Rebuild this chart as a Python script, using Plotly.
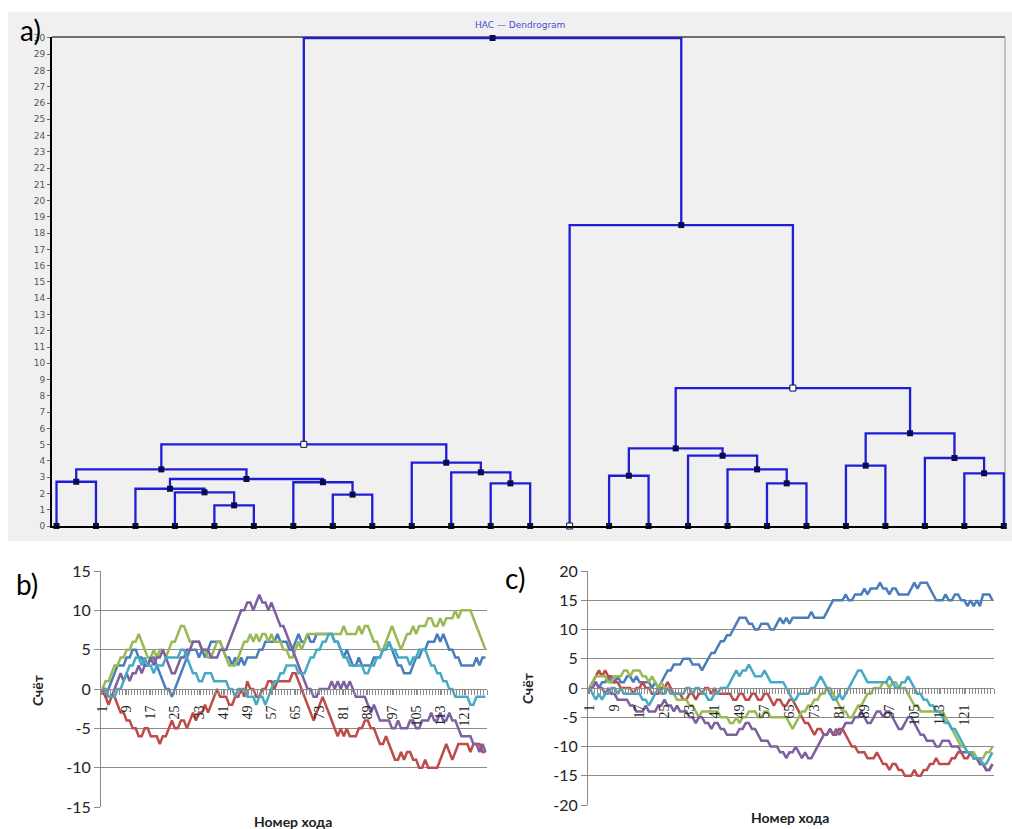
import plotly.graph_objects as go

W, H = 1012, 829

# ---------------- Panel a: dendrogram data ----------------
n_leaves = 25
# merges: (left child id, right child id, height); leaves are 0..24, merges numbered from 25
merge_left = [4, 7, 3, 2, 11, 18, 6, 0, 28, 14, 23, 10, 32, 17, 20, 9, 22, 16, 34, 37, 39, 43, 13, 44]
merge_right = [5, 8, 25, 27, 12, 19, 26, 1, 31, 15, 24, 29, 33, 30, 21, 36, 35, 38, 42, 40, 41, 45, 46, 47]
merge_height = [1.27, 1.93, 2.07, 2.29, 2.62, 2.62, 2.69, 2.72, 2.89, 3.09, 3.24, 3.30, 3.48, 3.48,
                3.71, 3.89, 4.18, 4.32, 4.77, 5.02, 5.70, 8.48, 18.5, 30.0]
hollow_nodes = [13, 44, 46]
dendro_ticks = list(range(0, 31))

# ---------------- Panel b data ----------------
b_blue = [0,-1,0,1,2,3,3,3,4,4, 5,5,4,4,3,3,4,4,3,2, 1,0,0,-1,0,1,2,3,4,5,
          5,5,4,5,4,5,6,6,6,6, 5,4,4,3,4,3,4,3,4,4, 4,4,5,5,6,6,6,6,7,6,
          6,6,5,5,6,7,6,6,7,6, 6,7,7,7,7,7,7,6,6,5, 4,5,4,3,3,4,3,3,3,3,
          4,4,4,5,5,6,5,4,3,3, 2,2,2,3,4,4,5,5,6,6, 6,7,6,7,6,5,5,4,4,3,
          3,3,3,3,4,3,4,4]
b_red = [0,-1,-2,-1,-1,-2,-3,-3,-4,-4, -5,-5,-6,-6,-5,-5,-6,-6,-6,-7, -6,-6,-5,-4,-5,-5,-4,-4,-5,-4,
         -3,-4,-3,-3,-2,-3,-2,-1,0,-1, -1,-1,-2,-2,-1,-1,0,-1,1,0, 0,-1,-1,0,0,1,1,0,1,1,
         1,1,1,2,2,1,0,-1,-2,-3, -4,-3,-2,-1,-2,-3,-4,-5,-6,-5, -6,-5,-6,-6,-6,-5,-5,-4,-4,-5,
         -5,-6,-7,-7,-6,-7,-8,-9,-9,-8, -9,-8,-8,-9,-9,-10,-10,-9,-10,-10, -10,-10,-9,-8,-7,-8,-9,-8,-7,-7,
         -7,-7,-8,-7,-7,-7,-8,-8]
b_green = [0,1,1,2,3,3,4,4,5,5, 6,6,7,6,5,4,4,5,4,5, 5,4,5,6,6,7,8,8,7,6,
           6,6,6,5,5,4,4,5,6,6, 5,4,3,3,3,4,5,6,6,7, 6,7,6,7,7,6,7,6,6,6,
           5,5,4,4,5,6,5,6,7,7, 7,7,7,7,7,7,7,7,7,7, 8,7,7,7,7,8,7,8,8,7,
           6,6,5,5,6,7,8,7,6,5, 6,7,7,8,7,8,8,8,9,9, 8,8,9,8,9,9,9,10,9,10,
           10,10,10,9,8,7,6,5]
b_purple = [0,0,-1,-1,0,1,2,1,2,1, 2,2,3,2,3,3,4,3,4,4, 5,4,3,2,2,3,4,4,5,5,
            6,6,6,5,5,5,4,4,4,5, 5,5,6,7,8,9,10,10,11,11, 10,11,12,11,11,10,11,10,9,8,
            8,7,6,5,4,3,2,1,0,0, -1,-1,0,0,0,0,1,0,1,0, 1,0,1,0,-1,-1,-1,-1,-2,-3,
            -2,-3,-4,-4,-4,-4,-5,-5,-4,-5, -5,-5,-4,-4,-5,-5,-4,-4,-4,-3, -4,-4,-3,-4,-4,-3,-4,-4,-5,-6,
            -6,-6,-6,-7,-7,-8,-7,-8]
b_aqua = [0,0,-1,-1,-1,0,0,1,2,3, 3,4,4,3,4,3,3,2,3,3, 3,4,4,4,4,4,5,5,4,3,
          2,2,1,1,2,2,2,1,1,1, 1,1,0,0,-1,0,0,0,-1,-1, -1,-2,-1,-1,-2,-1,0,1,1,2,
          2,3,3,3,3,2,2,2,3,4, 4,5,5,6,6,7,7,6,6,5, 4,4,3,3,3,3,3,2,2,3,
          3,4,4,5,5,6,5,5,4,4, 4,4,3,4,4,5,5,5,4,3, 3,2,2,1,1,0,0,-1,-1,-1,
          -1,-1,-2,-2,-1,-1,-1,-1]

# ---------------- Panel c data ----------------
c_blue = [0,1,1,0,1,1,2,1,1,2, 1,1,2,2,1,2,1,1,1,1, 0,1,0,1,2,3,3,4,4,4,
          5,5,5,4,4,4,3,4,5,6, 6,7,8,8,9,9,10,11,12,12, 12,11,11,10,10,11,11,11,10,10,
          11,12,11,12,11,12,12,12,12,12, 12,13,12,12,12,12,13,14,15,15, 15,15,16,15,15,16,16,16,17,16,
          17,17,17,18,17,17,16,17,17,16, 16,16,16,17,18,17,18,18,18,17, 16,15,15,15,16,15,15,16,16,15,
          15,14,15,14,15,14,16,16,16,15]
c_red = [0,1,2,3,2,3,2,2,1,1, 0,0,0,0,-1,0,0,1,0,0, -1,-1,-1,0,0,1,0,-1,-1,-1,
         -2,-2,-1,-1,-2,-1,-1,0,0,-1, 0,-1,-1,-1,-1,-1,-2,-2,-1,-1, -2,-2,-1,-1,-2,-2,-1,-1,-2,-3,
         -2,-2,-3,-3,-2,-2,-3,-4,-5,-6, -6,-7,-8,-7,-7,-8,-8,-7,-8,-8, -7,-7,-8,-9,-10,-10,-11,-11,-11,-12,
         -12,-12,-11,-12,-13,-13,-14,-13,-13,-14, -14,-15,-15,-15,-14,-15,-15,-14,-14,-13, -13,-12,-13,-13,-13,-13,-12,-12,-11,-11,
         -12,-12,-11,-12,-12,-13,-13,-14,-14,-13]
c_green = [0,1,2,2,2,2,1,1,2,2, 2,3,3,2,3,3,3,2,2,1, 2,1,0,1,0,0,-1,-1,-2,-2,
           -2,-2,-3,-3,-4,-5,-4,-4,-4,-4, -4,-4,-5,-5,-5,-6,-6,-5,-6,-5, -5,-4,-4,-4,-5,-5,-4,-4,-5,-5,
           -5,-5,-5,-5,-6,-7,-6,-5,-4,-4, -3,-3,-2,-2,-1,-1,0,0,-1,-2, -3,-4,-4,-5,-5,-4,-3,-3,-2,-1,
           -1,0,0,0,1,1,0,1,1,0, 0,0,-1,-2,-3,-3,-4,-4,-4,-4, -4,-4,-4,-4,-5,-6,-7,-8,-9,-10,
           -10,-11,-11,-11,-12,-12,-12,-11,-11,-10]
c_purple = [0,0,1,0,0,-1,0,-1,-1,-2, -2,-2,-2,-3,-3,-4,-4,-4,-3,-4, -4,-4,-3,-3,-2,-3,-3,-4,-3,-4,
            -4,-4,-5,-5,-6,-5,-5,-6,-6,-7, -6,-6,-7,-7,-8,-8,-8,-8,-7,-7, -6,-6,-7,-7,-8,-9,-9,-9,-10,-10,
            -10,-11,-11,-12,-11,-11,-10,-11,-12,-11, -12,-12,-11,-10,-9,-8,-8,-7,-8,-7, -8,-7,-6,-6,-6,-5,-5,-4,-5,-6,
            -6,-5,-4,-4,-5,-4,-4,-5,-6,-7, -7,-6,-5,-5,-6,-7,-8,-8,-9,-9, -9,-10,-10,-9,-9,-9,-10,-10,-10,-11,
            -11,-11,-11,-12,-12,-13,-13,-14,-14,-13]
c_aqua = [0,-1,-2,-1,-2,-1,-1,0,0,-1, 0,-1,-1,-1,-1,-1,-1,-2,-2,-3, -2,-1,0,-1,-1,0,-1,-1,-1,-1,
          -1,0,0,-1,0,0,-1,-1,-2,-2, -1,-1,0,0,0,1,2,3,2,3, 3,4,3,2,2,2,3,2,1,1,
          1,1,1,0,-1,-2,-2,-1,-1,-1, -1,0,0,1,2,1,0,-1,-2,-2, -1,-2,-1,0,1,2,3,3,2,1,
          1,1,1,1,1,1,2,1,0,0, 1,1,2,1,0,-1,-1,-2,-2,-3, -3,-4,-4,-5,-6,-6,-7,-7,-8,-9,
          -10,-11,-11,-12,-12,-12,-13,-13,-12,-11]

cat_labels = [1, 9, 17, 25, 33, 41, 49, 57, 65, 73, 81, 89, 97, 105, 113, 121]
b_ticks = [-15, -10, -5, 0, 5, 10, 15]
c_ticks = [-20, -15, -10, -5, 0, 5, 10, 15, 20]
series_names = ["1", "2", "3", "4", "5"]
series_colors = ["#4A7EBB", "#BE4B48", "#98B954", "#7D60A0", "#46AAC5"]


def px(x):
    return x / W


def py(y):
    return 1 - y / H


fig = go.Figure()

# ---------------- build dendrogram ----------------
node_x = {i: float(i) for i in range(n_leaves)}
node_h = {i: 0.0 for i in range(n_leaves)}
lx, ly = [], []
for k, (l, r, h) in enumerate(zip(merge_left, merge_right, merge_height)):
    nid = n_leaves + k
    xl, xr = node_x[l], node_x[r]
    lx += [xl, xl, xr, xr, None]
    ly += [node_h[l], h, h, node_h[r], None]
    node_x[nid] = (xl + xr) / 2
    node_h[nid] = h

fig.add_trace(go.Scatter(x=lx, y=ly, mode="lines", line=dict(color="#1E1ED6", width=2.3),
                         xaxis="x", yaxis="y", showlegend=False, hoverinfo="skip", cliponaxis=False))
ids = sorted(node_x.keys())
solid = [i for i in ids if i not in hollow_nodes]
fig.add_trace(go.Scatter(x=[node_x[i] for i in solid], y=[node_h[i] for i in solid], mode="markers",
                         marker=dict(symbol="square", size=6, color="#0A0A50"),
                         xaxis="x", yaxis="y", showlegend=False, cliponaxis=False))
fig.add_trace(go.Scatter(x=[node_x[i] for i in hollow_nodes], y=[node_h[i] for i in hollow_nodes], mode="markers",
                         marker=dict(symbol="square", size=6, color="white", line=dict(color="#0A0A50", width=1)),
                         xaxis="x", yaxis="y", showlegend=False, cliponaxis=False))

# ---------------- panels b and c ----------------
b_series = [b_blue, b_red, b_green, b_purple, b_aqua]
c_series = [c_blue, c_red, c_green, c_purple, c_aqua]
for s, col, nm in zip(b_series, series_colors, series_names):
    fig.add_trace(go.Scatter(x=list(range(1, len(s) + 1)), y=s, mode="lines", name=nm,
                             line=dict(color=col, width=2.5), xaxis="x2", yaxis="y2", showlegend=False))
for s, col, nm in zip(c_series, series_colors, series_names):
    fig.add_trace(go.Scatter(x=list(range(1, len(s) + 1)), y=s, mode="lines", name=nm,
                             line=dict(color=col, width=2.5), xaxis="x3", yaxis="y3", showlegend=False))

GRID = "#8A8A8A"
cat_axis = dict(
    tickmode="array", tickvals=cat_labels, ticktext=[str(v) for v in cat_labels],
    tickangle=-90, tickfont=dict(family="Liberation Serif", size=14, color="#222"),
    ticks="outside", ticklen=5, tickcolor=GRID, ticklabelstandoff=5,
    minor=dict(ticks="outside", ticklen=5, tickcolor=GRID, tick0=0.5, dtick=1, showgrid=False),
    showline=True, linecolor=GRID, linewidth=1, showgrid=False, zeroline=False, anchor="free",
    automargin=False,
)
val_axis = dict(
    showgrid=True, gridcolor=GRID, gridwidth=1, zeroline=False, showline=True, linecolor=GRID,
    ticks="outside", ticklen=6, tickcolor=GRID, automargin=False,
    tickfont=dict(family="Lato", size=16, color="#222"),
)

yb_dom = [py(807), py(571)]
yc_dom = [py(805), py(571)]

fig.update_layout(
    width=W, height=H, margin=dict(l=0, r=0, t=0, b=0, autoexpand=False),
    paper_bgcolor="white", plot_bgcolor="rgba(0,0,0,0)",
    xaxis=dict(domain=[px(52), px(1005)], range=[-0.114, 24.03], showticklabels=False, showgrid=False,
               zeroline=False, showline=True, linecolor="black", linewidth=2, anchor="y", ticks="",
               automargin=False),
    yaxis=dict(domain=[py(526), py(37)], range=[0, 30.06], tickmode="array", tickvals=dendro_ticks,
               ticks="outside", ticklen=3, tickcolor="#666",
               tickfont=dict(family="DejaVu Sans", size=9, color="#555"),
               showgrid=False, zeroline=False, showline=True, linecolor="black", linewidth=2, anchor="x",
               automargin=False),
    xaxis2=dict(domain=[px(101), px(487)], range=[0.5, 128.5], position=(yb_dom[0] + yb_dom[1]) / 2, **cat_axis),
    yaxis2=dict(domain=yb_dom, range=[-15, 15], anchor="x2", tickmode="array", tickvals=b_ticks,
                ticktext=[str(v) for v in b_ticks], **val_axis),
    xaxis3=dict(domain=[px(588), px(994)], range=[0.5, 130.5], position=(yc_dom[0] + yc_dom[1]) / 2, **cat_axis),
    yaxis3=dict(domain=yc_dom, range=[-20, 20], anchor="x3", tickmode="array", tickvals=c_ticks,
                ticktext=[str(v) for v in c_ticks], **val_axis),
)

# background of panel a and its frame
fig.add_shape(type="rect", xref="paper", yref="paper", x0=px(8), x1=1, y0=py(541), y1=py(12),
              fillcolor="#F0F0F0", line=dict(width=0), layer="below")
fig.add_shape(type="line", xref="paper", yref="paper", x0=px(52), x1=px(1005), y0=py(37), y1=py(37),
              line=dict(color="#707070", width=2), layer="below")
fig.add_shape(type="line", xref="paper", yref="paper", x0=px(1005), x1=px(1005), y0=py(526), y1=py(37),
              line=dict(color="#909090", width=1), layer="below")

ann = [
    dict(text="HAC — Dendrogram", x=px(520), y=py(25), font=dict(family="DejaVu Sans", size=9, color="#4A4AD0")),
    dict(text="a)", x=px(30), y=py(30), font=dict(family="Lato", size=28, color="black")),
    dict(text="b)", x=px(27), y=py(584), font=dict(family="Lato", size=28, color="black")),
    dict(text="c)", x=px(515), y=py(578), font=dict(family="Lato", size=28, color="black")),
    dict(text="<b>Счёт</b>", x=px(37), y=py(690), textangle=-90, font=dict(family="Lato", size=14, color="#222")),
    dict(text="<b>Счёт</b>", x=px(527), y=py(688), textangle=-90, font=dict(family="Lato", size=14, color="#222")),
    dict(text="<b>Номер хода</b>", x=px(293), y=py(821), font=dict(family="Lato", size=14, color="#222")),
    dict(text="<b>Номер хода</b>", x=px(790), y=py(817), font=dict(family="Lato", size=14, color="#222")),
]
for a in ann:
    fig.add_annotation(xref="paper", yref="paper", showarrow=False, xanchor="center", yanchor="middle", **a)

fig.write_html("out.html", config={"displayModeBar": False},
               post_script="document.body.style.margin='0';document.body.style.overflow='hidden';")
